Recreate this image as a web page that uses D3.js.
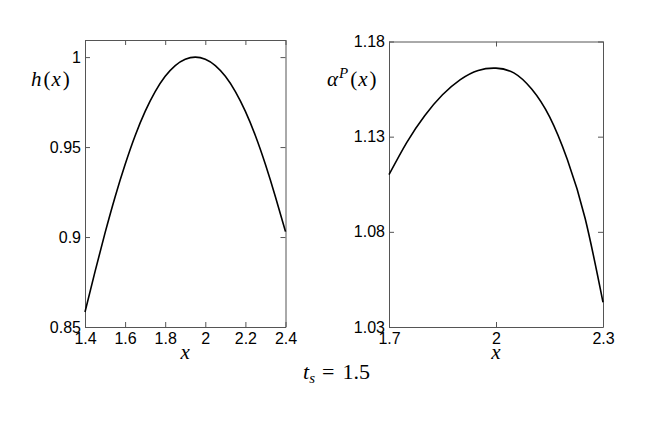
<!DOCTYPE html>
<html>
<head>
<meta charset="utf-8">
<script src="https://cdn.jsdelivr.net/npm/d3@7"></script>
<style>
  body { margin: 0; background: #fff; }
  .axis text { font-family: "Liberation Sans", Arial, sans-serif; font-size: 16px; fill: #000; }
  .axis path, .axis line { stroke: #555; stroke-width: 1; }
  .tex { font-family: "Liberation Serif", "Times New Roman", serif; font-size: 21px; fill: #000; }
</style>
</head>
<body>
<div id="fig"></div>
<script>
// left panel: h(x)
var hX = [1.40, 1.45, 1.50, 1.55, 1.60, 1.65, 1.70, 1.75, 1.80, 1.85, 1.90, 1.95, 2.00, 2.05, 2.10, 2.15, 2.20, 2.25, 2.30, 2.35, 2.40];
var hY = [0.8583, 0.8808, 0.9023, 0.9223, 0.9403, 0.9563, 0.9698, 0.9808, 0.9893, 0.9953, 0.9988, 1.0000,
          0.9988, 0.9953, 0.9893, 0.9808, 0.9698, 0.9563, 0.9403, 0.9223, 0.9030];
var hXTicks = [1.4, 1.6, 1.8, 2, 2.2, 2.4];
var hYTicks = [0.85, 0.9, 0.95, 1];

// right panel: alpha^P(x)
var aX = [1.70, 1.75, 1.80, 1.85, 1.90, 1.95, 2.00, 2.05, 2.10, 2.15, 2.20, 2.25, 2.30];
var aY = [1.110, 1.127, 1.141, 1.152, 1.160, 1.1648, 1.1660, 1.1635, 1.1550, 1.1405, 1.1180, 1.0870, 1.0430];
var aXTicks = [1.7, 2, 2.3];
var aYTicks = [1.03, 1.08, 1.13, 1.18];

var width = 654, height = 422;
var svg = d3.select("#fig").append("svg")
	.attr("width", width)
	.attr("height", height);

function panel(xs, ys, xDom, yDom, xTicks, yTicks, box) {
	var x = d3.scaleLinear().domain(xDom).range([box.left, box.right]);
	var y = d3.scaleLinear().domain(yDom).range([box.bottom, box.top]);
	var g = svg.append("g");

	g.append("g").attr("class", "axis")
		.attr("transform", "translate(0," + box.bottom + ")")
		.call(d3.axisBottom(x).tickValues(xTicks).tickSize(-5).tickSizeOuter(0).tickPadding(6).tickFormat(d3.format("")));
	g.append("g").attr("class", "axis")
		.attr("transform", "translate(0," + box.top + ")")
		.call(d3.axisTop(x).tickValues(xTicks).tickSize(-5).tickSizeOuter(0).tickFormat(""));
	g.append("g").attr("class", "axis")
		.attr("transform", "translate(" + box.left + ",0)")
		.call(d3.axisLeft(y).tickValues(yTicks).tickSize(-5).tickSizeOuter(0).tickPadding(4).tickFormat(d3.format("")));
	g.append("g").attr("class", "axis")
		.attr("transform", "translate(" + box.right + ",0)")
		.call(d3.axisRight(y).tickValues(yTicks).tickSize(-5).tickSizeOuter(0).tickFormat(""));

	var line = d3.line()
		.x(function(d) { return x(d[0]); })
		.y(function(d) { return y(d[1]); })
		.curve(d3.curveNatural);
	g.append("path")
		.datum(d3.zip(xs, ys))
		.attr("fill", "none")
		.attr("stroke", "#000")
		.attr("stroke-width", 1.6)
		.attr("d", line);

	// x label, centred under the axes box
	g.append("text").attr("class", "tex")
		.attr("x", (box.left + box.right) / 2).attr("y", 359)
		.attr("text-anchor", "middle")
		.style("font-style", "italic")
		.text("x");
	return g;
}

var left = panel(hX, hY, [1.4, 2.4], [0.85, 1.0095], hXTicks, hYTicks,
	{left: 85, right: 285.5, top: 40, bottom: 327});
var right = panel(aX, aY, [1.7, 2.3], [1.03, 1.18], aXTicks, aYTicks,
	{left: 389, right: 603, top: 41.5, bottom: 327});

var hl = svg.append("text").attr("class", "tex").attr("x", 31).attr("y", 86);
hl.append("tspan").style("font-style", "italic").text("h");
hl.append("tspan").attr("dx", 2).text("(");
hl.append("tspan").attr("dx", 1).style("font-style", "italic").text("x");
hl.append("tspan").attr("dx", 2).text(")");

var al = svg.append("text").attr("class", "tex").attr("x", 327).attr("y", 86);
al.append("tspan").style("font-style", "italic").text("α");
al.append("tspan").style("font-style", "italic").style("font-size", "15px").attr("dy", -8).attr("dx", 1).text("P");
al.append("tspan").attr("dy", 8).attr("dx", 2).text("(");
al.append("tspan").attr("dx", 1).style("font-style", "italic").text("x");
al.append("tspan").attr("dx", 2).text(")");

var ts = svg.append("text").attr("class", "tex").style("font-size", "22px").attr("x", 303).attr("y", 379);
ts.append("tspan").style("font-style", "italic").text("t");
ts.append("tspan").style("font-style", "italic").style("font-size", "15px").attr("dy", 4).text("s");
ts.append("tspan").attr("dy", -4).attr("dx", 7).text("=");
ts.append("tspan").attr("dx", 8).text("1.5");
</script>
</body>
</html>
